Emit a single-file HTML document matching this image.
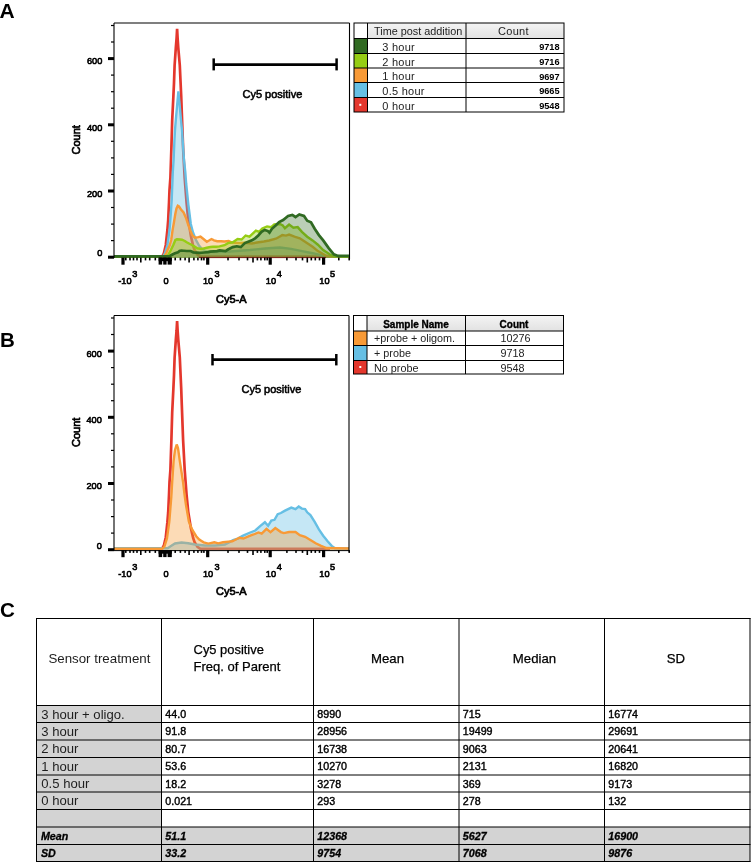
<!DOCTYPE html>
<html><head><meta charset="utf-8"><title>Figure</title>
<style>html,body{margin:0;padding:0;background:#fff;}body{width:752px;height:862px;position:relative;overflow:hidden;font-family:"Liberation Sans", sans-serif;}</style>
</head><body>
<svg width="752" height="862" viewBox="0 0 752 862" style="position:absolute;left:0;top:0;will-change:transform" font-family='"Liberation Sans", sans-serif'>
<defs><linearGradient id="hg" x1="0" y1="0" x2="0" y2="1"><stop offset="0" stop-color="#f4f4f4"/><stop offset="1" stop-color="#e2e2e2"/></linearGradient></defs>
<text x="-0.4" y="17.6" font-size="21" font-weight="bold">A</text>
<text x="0" y="347.2" font-size="20.5" font-weight="bold">B</text>
<text x="0" y="617.3" font-size="20.6" font-weight="bold">C</text>
<path d="M157.0,256.6 L160.0,256.5 L162.3,256.3 L163.9,253.3 L165.8,245.0 L167.4,230.0 L168.2,220.0 L169.0,202.8 L169.5,190.0 L170.4,177.8 L171.4,147.8 L172.2,120.0 L173.4,96.0 L174.0,83.0 L174.6,65.5 L175.8,48.0 L176.6,38.0 L177.1,28.9 L177.6,38.0 L178.3,48.0 L179.8,65.5 L180.6,83.0 L181.2,96.0 L181.8,112.8 L183.1,147.8 L184.7,177.8 L186.6,202.8 L188.2,219.4 L190.9,236.0 L193.2,246.0 L194.6,250.0 L197.5,254.7 L200.0,256.4 L210.0,256.7 L330.0,256.7" fill="none" stroke="#e4372d" stroke-width="2.7" stroke-linejoin="miter" stroke-miterlimit="2.5"/><path d="M114.0,257.9 L114.0,256.5 L162.0,256.5 L163.7,255.6 L165.0,253.0 L167.4,245.0 L169.5,230.0 L170.7,215.0 L171.7,200.0 L172.8,172.0 L173.6,160.0 L174.4,141.0 L175.0,130.0 L175.8,120.0 L176.7,110.0 L177.6,100.0 L178.4,91.4 L179.2,100.0 L180.1,110.0 L181.0,120.0 L182.0,130.0 L183.0,145.0 L184.0,160.0 L185.3,172.0 L186.2,184.0 L188.4,205.0 L190.8,224.0 L193.0,232.5 L196.0,240.0 L199.0,245.5 L202.0,249.0 L206.0,251.0 L214.0,252.0 L230.0,251.5 L250.0,250.0 L265.0,248.5 L280.0,247.5 L291.0,248.9 L302.0,251.1 L312.6,253.2 L322.0,255.5 L330.0,256.5 L349.0,256.5 L349.0,257.9 Z" fill="#66bfe4" fill-opacity="0.38" stroke="none"/><path d="M114.0,256.5 L162.0,256.5 L163.7,255.6 L165.0,253.0 L167.4,245.0 L169.5,230.0 L170.7,215.0 L171.7,200.0 L172.8,172.0 L173.6,160.0 L174.4,141.0 L175.0,130.0 L175.8,120.0 L176.7,110.0 L177.6,100.0 L178.4,91.4 L179.2,100.0 L180.1,110.0 L181.0,120.0 L182.0,130.0 L183.0,145.0 L184.0,160.0 L185.3,172.0 L186.2,184.0 L188.4,205.0 L190.8,224.0 L193.0,232.5 L196.0,240.0 L199.0,245.5 L202.0,249.0 L206.0,251.0 L214.0,252.0 L230.0,251.5 L250.0,250.0 L265.0,248.5 L280.0,247.5 L291.0,248.9 L302.0,251.1 L312.6,253.2 L322.0,255.5 L330.0,256.5 L349.0,256.5" fill="none" stroke="#66bfe4" stroke-width="2.4" stroke-linejoin="miter" stroke-miterlimit="2.5"/><path d="M114.0,257.9 L114.0,256.5 L162.5,256.5 L164.5,256.1 L166.3,253.0 L168.0,249.0 L169.8,245.0 L171.2,240.0 L172.6,230.0 L174.0,222.0 L175.3,214.0 L176.5,208.5 L177.8,205.8 L179.0,206.5 L181.0,209.5 L183.6,212.5 L186.0,218.0 L188.3,225.0 L190.5,231.0 L192.5,235.5 L195.0,237.7 L198.5,237.2 L200.5,236.5 L203.5,239.0 L206.8,241.7 L209.0,240.5 L211.5,239.0 L214.0,240.3 L217.2,241.2 L221.0,241.3 L224.5,241.5 L228.7,241.0 L231.9,242.6 L235.0,242.8 L239.4,243.0 L245.0,242.8 L251.9,243.5 L257.0,242.5 L263.9,241.5 L269.0,240.5 L275.9,238.7 L279.0,237.0 L282.3,235.1 L286.0,235.6 L289.1,234.6 L294.5,236.7 L299.8,238.3 L306.2,242.6 L312.6,246.8 L317.9,251.1 L325.3,255.3 L330.0,256.5 L349.0,256.5 L349.0,257.9 Z" fill="#f89a36" fill-opacity="0.36" stroke="none"/><path d="M114.0,256.5 L162.5,256.5 L164.5,256.1 L166.3,253.0 L168.0,249.0 L169.8,245.0 L171.2,240.0 L172.6,230.0 L174.0,222.0 L175.3,214.0 L176.5,208.5 L177.8,205.8 L179.0,206.5 L181.0,209.5 L183.6,212.5 L186.0,218.0 L188.3,225.0 L190.5,231.0 L192.5,235.5 L195.0,237.7 L198.5,237.2 L200.5,236.5 L203.5,239.0 L206.8,241.7 L209.0,240.5 L211.5,239.0 L214.0,240.3 L217.2,241.2 L221.0,241.3 L224.5,241.5 L228.7,241.0 L231.9,242.6 L235.0,242.8 L239.4,243.0 L245.0,242.8 L251.9,243.5 L257.0,242.5 L263.9,241.5 L269.0,240.5 L275.9,238.7 L279.0,237.0 L282.3,235.1 L286.0,235.6 L289.1,234.6 L294.5,236.7 L299.8,238.3 L306.2,242.6 L312.6,246.8 L317.9,251.1 L325.3,255.3 L330.0,256.5 L349.0,256.5" fill="none" stroke="#f89a36" stroke-width="2.4" stroke-linejoin="miter" stroke-miterlimit="2.5"/><path d="M114.0,257.9 L114.0,256.5 L164.5,256.5 L166.0,256.3 L168.1,255.0 L170.9,250.0 L173.3,245.0 L175.4,240.0 L177.0,239.3 L180.1,239.5 L182.0,239.7 L184.8,241.0 L186.7,242.3 L189.0,243.5 L192.0,245.0 L194.5,246.5 L197.3,248.3 L201.3,249.0 L204.0,248.3 L206.7,247.7 L210.3,247.0 L213.0,246.8 L216.0,246.8 L219.6,246.4 L224.5,245.2 L228.0,243.1 L232.8,242.3 L237.6,239.1 L241.6,239.5 L245.6,235.5 L249.5,236.7 L251.9,234.3 L255.9,230.7 L259.1,231.9 L262.3,228.4 L267.1,226.4 L271.1,227.2 L274.3,224.4 L279.9,224.0 L282.8,225.5 L284.9,228.2 L289.1,224.5 L293.4,227.7 L297.7,227.1 L301.9,231.9 L307.2,236.7 L312.6,240.4 L317.9,244.7 L323.2,250.0 L329.6,254.3 L333.8,256.4 L349.0,256.5 L349.0,257.9 Z" fill="#96cd14" fill-opacity="0.36" stroke="none"/><path d="M114.0,256.5 L164.5,256.5 L166.0,256.3 L168.1,255.0 L170.9,250.0 L173.3,245.0 L175.4,240.0 L177.0,239.3 L180.1,239.5 L182.0,239.7 L184.8,241.0 L186.7,242.3 L189.0,243.5 L192.0,245.0 L194.5,246.5 L197.3,248.3 L201.3,249.0 L204.0,248.3 L206.7,247.7 L210.3,247.0 L213.0,246.8 L216.0,246.8 L219.6,246.4 L224.5,245.2 L228.0,243.1 L232.8,242.3 L237.6,239.1 L241.6,239.5 L245.6,235.5 L249.5,236.7 L251.9,234.3 L255.9,230.7 L259.1,231.9 L262.3,228.4 L267.1,226.4 L271.1,227.2 L274.3,224.4 L279.9,224.0 L282.8,225.5 L284.9,228.2 L289.1,224.5 L293.4,227.7 L297.7,227.1 L301.9,231.9 L307.2,236.7 L312.6,240.4 L317.9,244.7 L323.2,250.0 L329.6,254.3 L333.8,256.4 L349.0,256.5" fill="none" stroke="#96cd14" stroke-width="2.4" stroke-linejoin="miter" stroke-miterlimit="2.5"/><path d="M114.0,257.9 L114.0,256.4 L168.0,256.4 L169.5,256.2 L172.0,254.8 L175.0,253.3 L178.0,252.2 L179.5,251.0 L181.3,250.5 L186.7,251.0 L190.6,251.0 L193.3,252.3 L199.9,252.8 L204.0,252.5 L208.5,252.1 L210.3,251.6 L217.0,251.1 L219.6,250.4 L225.5,251.1 L228.0,249.5 L232.8,247.1 L236.8,246.3 L240.8,247.1 L244.8,243.1 L248.8,241.5 L251.9,240.3 L255.1,238.3 L258.3,235.5 L261.5,231.9 L264.7,229.9 L267.9,231.1 L269.5,232.7 L271.9,228.8 L275.9,225.2 L279.1,222.0 L283.1,220.0 L288.1,216.0 L292.3,214.9 L295.5,217.0 L299.3,214.4 L304.0,216.0 L307.2,220.7 L311.0,222.3 L314.7,228.7 L318.9,235.1 L323.2,240.4 L328.5,247.9 L333.8,254.3 L338.1,255.9 L349.0,255.9 L349.0,257.9 Z" fill="#306a22" fill-opacity="0.33" stroke="none"/><path d="M114.0,256.4 L168.0,256.4 L169.5,256.2 L172.0,254.8 L175.0,253.3 L178.0,252.2 L179.5,251.0 L181.3,250.5 L186.7,251.0 L190.6,251.0 L193.3,252.3 L199.9,252.8 L204.0,252.5 L208.5,252.1 L210.3,251.6 L217.0,251.1 L219.6,250.4 L225.5,251.1 L228.0,249.5 L232.8,247.1 L236.8,246.3 L240.8,247.1 L244.8,243.1 L248.8,241.5 L251.9,240.3 L255.1,238.3 L258.3,235.5 L261.5,231.9 L264.7,229.9 L267.9,231.1 L269.5,232.7 L271.9,228.8 L275.9,225.2 L279.1,222.0 L283.1,220.0 L288.1,216.0 L292.3,214.9 L295.5,217.0 L299.3,214.4 L304.0,216.0 L307.2,220.7 L311.0,222.3 L314.7,228.7 L318.9,235.1 L323.2,240.4 L328.5,247.9 L333.8,254.3 L338.1,255.9 L349.0,255.9" fill="none" stroke="#306a22" stroke-width="2.7" stroke-linejoin="miter" stroke-miterlimit="2.5"/><rect x="199" y="256.9" width="127" height="1.2" fill="#7d2a1c"/><line x1="114" y1="23.0" x2="349.5" y2="23.0" stroke="#000" stroke-width="1.1"/><line x1="349.5" y1="23.0" x2="349.5" y2="259" stroke="#000" stroke-width="1.1"/><line x1="114" y1="23.0" x2="114" y2="258" stroke="#000" stroke-width="1.1"/><rect x="108" y="255.7" width="6" height="3" fill="#000"/><rect x="111" y="240.0" width="3" height="1.2" fill="#000"/><rect x="111" y="223.5" width="3" height="1.2" fill="#000"/><rect x="111" y="206.9" width="3" height="1.2" fill="#000"/><rect x="108" y="189.5" width="6" height="3" fill="#000"/><rect x="111" y="173.8" width="3" height="1.2" fill="#000"/><rect x="111" y="157.3" width="3" height="1.2" fill="#000"/><rect x="111" y="140.7" width="3" height="1.2" fill="#000"/><rect x="108" y="123.3" width="6" height="3" fill="#000"/><rect x="111" y="107.6" width="3" height="1.2" fill="#000"/><rect x="111" y="91.1" width="3" height="1.2" fill="#000"/><rect x="111" y="74.5" width="3" height="1.2" fill="#000"/><rect x="108" y="57.1" width="6" height="3" fill="#000"/><rect x="111" y="41.4" width="3" height="1.2" fill="#000"/><rect x="111" y="24.9" width="3" height="1.2" fill="#000"/><text x="102.3" y="64.3" text-anchor="end" font-size="9.2" stroke="#000" stroke-width="0.6">600</text><text x="102.3" y="130.9" text-anchor="end" font-size="9.2" stroke="#000" stroke-width="0.6">400</text><text x="102.3" y="196.9" text-anchor="end" font-size="9.2" stroke="#000" stroke-width="0.6">200</text><text x="102.3" y="256.4" text-anchor="end" font-size="9.2" stroke="#000" stroke-width="0.6">0</text><rect x="121.4" y="257.6" width="3.2" height="7.1" fill="#000"/><rect x="206.1" y="257.6" width="3.2" height="7.1" fill="#000"/><rect x="268.6" y="257.6" width="3.2" height="7.1" fill="#000"/><rect x="322.0" y="257.6" width="3.2" height="7.1" fill="#000"/><rect x="125.0" y="257.6" width="1.6" height="2.8" fill="#000"/><rect x="129.2" y="257.6" width="1.6" height="2.8" fill="#000"/><rect x="132.7" y="257.6" width="1.6" height="2.8" fill="#000"/><rect x="136.2" y="257.6" width="1.6" height="2.8" fill="#000"/><rect x="144.7" y="257.6" width="1.6" height="2.8" fill="#000"/><rect x="148.9" y="257.6" width="1.6" height="2.8" fill="#000"/><rect x="154.5" y="257.6" width="1.6" height="2.8" fill="#000"/><rect x="174.4" y="257.6" width="1.6" height="2.8" fill="#000"/><rect x="179.6" y="257.6" width="1.6" height="2.8" fill="#000"/><rect x="184.3" y="257.6" width="1.6" height="2.8" fill="#000"/><rect x="193.1" y="257.6" width="1.6" height="2.8" fill="#000"/><rect x="197.1" y="257.6" width="1.6" height="2.8" fill="#000"/><rect x="200.7" y="257.6" width="1.6" height="2.8" fill="#000"/><rect x="203.1" y="257.6" width="1.6" height="2.8" fill="#000"/><rect x="227.2" y="257.6" width="1.6" height="2.8" fill="#000"/><rect x="238.2" y="257.6" width="1.6" height="2.8" fill="#000"/><rect x="246.7" y="257.6" width="1.6" height="2.8" fill="#000"/><rect x="256.6" y="257.6" width="1.6" height="2.8" fill="#000"/><rect x="260.1" y="257.6" width="1.6" height="2.8" fill="#000"/><rect x="264.0" y="257.6" width="1.6" height="2.8" fill="#000"/><rect x="266.4" y="257.6" width="1.6" height="2.8" fill="#000"/><rect x="286.1" y="257.6" width="1.6" height="2.8" fill="#000"/><rect x="295.2" y="257.6" width="1.6" height="2.8" fill="#000"/><rect x="301.7" y="257.6" width="1.6" height="2.8" fill="#000"/><rect x="310.5" y="257.6" width="1.6" height="2.8" fill="#000"/><rect x="314.5" y="257.6" width="1.6" height="2.8" fill="#000"/><rect x="318.7" y="257.6" width="1.6" height="2.8" fill="#000"/><rect x="338.0" y="257.6" width="1.6" height="2.8" fill="#000"/><rect x="348.4" y="257.6" width="1.6" height="2.8" fill="#000"/><rect x="140.0" y="257.6" width="1.6" height="4.9" fill="#000"/><rect x="188.3" y="257.6" width="1.6" height="4.9" fill="#000"/><rect x="252.2" y="257.6" width="1.6" height="4.9" fill="#000"/><rect x="306.5" y="257.6" width="1.6" height="4.9" fill="#000"/><rect x="158.6" y="257.6" width="13.2" height="3.6" fill="#000"/><rect x="158.6" y="257.6" width="3.6" height="7" fill="#000"/><rect x="163.2" y="257.6" width="3.4" height="7" fill="#000"/><rect x="167.6" y="257.6" width="4.2" height="7" fill="#000"/><text x="118.3" y="284.3" font-size="9.2" stroke="#000" stroke-width="0.6">-10</text><text x="132.3" y="277.2" font-size="9.2" stroke="#000" stroke-width="0.6">3</text><text x="163.4" y="284.3" font-size="9.2" stroke="#000" stroke-width="0.6">0</text><text x="203" y="284.3" font-size="9.2" stroke="#000" stroke-width="0.6">10</text><text x="214.5" y="277.2" font-size="9.2" stroke="#000" stroke-width="0.6">3</text><text x="265.8" y="284.3" font-size="9.2" stroke="#000" stroke-width="0.6">10</text><text x="276.8" y="277.2" font-size="9.2" stroke="#000" stroke-width="0.6">4</text><text x="319.3" y="284.3" font-size="9.2" stroke="#000" stroke-width="0.6">10</text><text x="330" y="277.2" font-size="9.2" stroke="#000" stroke-width="0.6">5</text><text x="231.3" y="302.8" text-anchor="middle" font-size="11" stroke="#000" stroke-width="0.7">Cy5-A</text><text transform="translate(80.2,139.8) rotate(-90)" text-anchor="middle" font-size="11" stroke="#000" stroke-width="0.7">Count</text><line x1="213.7" y1="64.6" x2="336.6" y2="64.6" stroke="#000" stroke-width="2.7"/><line x1="213.7" y1="58.4" x2="213.7" y2="70.4" stroke="#000" stroke-width="2.5"/><line x1="336.6" y1="58.4" x2="336.6" y2="70.4" stroke="#000" stroke-width="2.5"/><text x="272.4" y="97.7" text-anchor="middle" font-size="11" stroke="#000" stroke-width="0.55">Cy5 positive</text>
<rect x="367.5" y="23.0" width="196.5" height="15.5" fill="url(#hg)"/><rect x="354.0" y="38.5" width="13.5" height="15.0" fill="#306a22"/><text x="382.3" y="50.5" font-size="11" letter-spacing="0.25" fill="#222">3 hour</text><text x="559.6" y="50.3" font-size="9.2" font-weight="bold" text-anchor="end">9718</text><rect x="354.0" y="53.5" width="13.5" height="14.5" fill="#96cd14"/><text x="382.3" y="65.5" font-size="11" letter-spacing="0.25" fill="#222">2 hour</text><text x="559.6" y="65.3" font-size="9.2" font-weight="bold" text-anchor="end">9716</text><rect x="354.0" y="68.0" width="13.5" height="14.5" fill="#f89a36"/><text x="382.3" y="80.0" font-size="11" letter-spacing="0.25" fill="#222">1 hour</text><text x="559.6" y="79.8" font-size="9.2" font-weight="bold" text-anchor="end">9697</text><rect x="354.0" y="82.5" width="13.5" height="15.0" fill="#66bfe4"/><text x="382.3" y="94.5" font-size="11" letter-spacing="0.25" fill="#222">0.5 hour</text><text x="559.6" y="94.3" font-size="9.2" font-weight="bold" text-anchor="end">9665</text><rect x="354.0" y="97.5" width="13.5" height="14.5" fill="#e4372d"/><text x="382.3" y="109.5" font-size="11" letter-spacing="0.25" fill="#222">0 hour</text><text x="559.6" y="109.3" font-size="9.2" font-weight="bold" text-anchor="end">9548</text><rect x="364.3" y="103.8" width="2" height="2" fill="#fff" transform="translate(-5,0)"/><line x1="354.0" y1="38.5" x2="564.0" y2="38.5" stroke="#000" stroke-width="1"/><line x1="354.0" y1="53.5" x2="564.0" y2="53.5" stroke="#000" stroke-width="1"/><line x1="354.0" y1="68.0" x2="564.0" y2="68.0" stroke="#000" stroke-width="1"/><line x1="354.0" y1="82.5" x2="564.0" y2="82.5" stroke="#000" stroke-width="1"/><line x1="354.0" y1="97.5" x2="564.0" y2="97.5" stroke="#000" stroke-width="1"/><line x1="367.5" y1="23.0" x2="367.5" y2="112.0" stroke="#000" stroke-width="1"/><line x1="466" y1="23.0" x2="466" y2="112.0" stroke="#000" stroke-width="1"/><rect x="354.0" y="23.0" width="210.0" height="89.0" fill="none" stroke="#000" stroke-width="1"/><text x="374.0" y="34.9" font-size="10.85" fill="#222">Time post addition</text><text x="513.4" y="34.9" font-size="11" letter-spacing="0.3" fill="#222" text-anchor="middle">Count</text>
<path d="M157.0,548.8 L160.0,548.7 L162.3,548.5 L163.9,545.5 L165.8,537.2 L167.4,522.2 L168.2,512.2 L169.0,495.0 L169.5,482.2 L170.4,470.0 L171.4,440.0 L172.2,412.2 L173.4,388.2 L174.0,375.2 L174.6,357.7 L175.8,340.2 L176.6,330.2 L177.1,321.1 L177.6,330.2 L178.3,340.2 L179.8,357.7 L180.6,375.2 L181.2,388.2 L181.8,405.0 L183.1,440.0 L184.7,470.0 L186.6,495.0 L188.2,511.6 L190.9,528.2 L193.2,538.2 L194.6,542.2 L197.5,546.9 L200.0,548.6 L210.0,548.9 L330.0,548.9" fill="none" stroke="#e4372d" stroke-width="2.7" stroke-linejoin="miter" stroke-miterlimit="2.5"/><path d="M114.0,550.3 L114.0,548.1 L163.0,548.1 L165.5,548.3 L167.6,548.2 L171.0,546.0 L175.0,543.5 L181.6,542.5 L188.2,543.2 L194.9,544.5 L205.0,545.5 L215.0,545.5 L225.0,544.5 L229.0,542.5 L233.0,540.2 L238.0,538.6 L242.6,535.8 L249.0,533.0 L255.3,530.5 L260.1,526.1 L264.9,522.2 L268.1,525.8 L271.3,520.6 L274.5,519.8 L277.7,514.2 L280.9,513.0 L285.0,510.6 L291.3,507.6 L295.5,509.1 L298.7,506.5 L301.9,508.6 L305.1,509.1 L307.2,512.3 L310.4,515.0 L314.7,521.9 L318.9,529.4 L323.2,535.7 L327.4,541.1 L331.7,545.9 L334.9,548.3 L349.0,548.5 L349.0,550.3 Z" fill="#66bfe4" fill-opacity="0.38" stroke="none"/><path d="M114.0,548.1 L163.0,548.1 L165.5,548.3 L167.6,548.2 L171.0,546.0 L175.0,543.5 L181.6,542.5 L188.2,543.2 L194.9,544.5 L205.0,545.5 L215.0,545.5 L225.0,544.5 L229.0,542.5 L233.0,540.2 L238.0,538.6 L242.6,535.8 L249.0,533.0 L255.3,530.5 L260.1,526.1 L264.9,522.2 L268.1,525.8 L271.3,520.6 L274.5,519.8 L277.7,514.2 L280.9,513.0 L285.0,510.6 L291.3,507.6 L295.5,509.1 L298.7,506.5 L301.9,508.6 L305.1,509.1 L307.2,512.3 L310.4,515.0 L314.7,521.9 L318.9,529.4 L323.2,535.7 L327.4,541.1 L331.7,545.9 L334.9,548.3 L349.0,548.5" fill="none" stroke="#66bfe4" stroke-width="2.4" stroke-linejoin="miter" stroke-miterlimit="2.5"/><path d="M114.0,550.3 L114.0,548.8 L162.0,548.8 L164.3,546.9 L167.0,538.2 L169.3,521.6 L171.3,497.0 L172.2,481.7 L173.6,460.9 L175.0,450.0 L176.7,444.5 L178.0,448.0 L179.8,460.9 L183.0,481.7 L184.6,495.0 L186.0,505.0 L188.9,521.6 L192.2,529.6 L196.2,536.2 L199.0,539.3 L201.5,540.9 L203.7,542.3 L208.3,543.6 L214.3,542.3 L218.3,543.3 L223.0,542.3 L228.3,541.6 L232.3,541.3 L236.3,539.3 L239.4,537.7 L243.4,538.5 L249.0,536.1 L253.5,534.5 L258.5,532.5 L261.7,533.7 L266.5,528.9 L270.5,532.1 L275.3,528.1 L280.9,532.1 L283.8,533.1 L289.1,532.0 L295.5,532.0 L299.8,535.2 L305.1,536.8 L310.4,540.0 L315.7,543.2 L321.1,545.9 L326.4,548.0 L349.0,548.5 L349.0,550.3 Z" fill="#f89a36" fill-opacity="0.36" stroke="none"/><path d="M114.0,548.8 L162.0,548.8 L164.3,546.9 L167.0,538.2 L169.3,521.6 L171.3,497.0 L172.2,481.7 L173.6,460.9 L175.0,450.0 L176.7,444.5 L178.0,448.0 L179.8,460.9 L183.0,481.7 L184.6,495.0 L186.0,505.0 L188.9,521.6 L192.2,529.6 L196.2,536.2 L199.0,539.3 L201.5,540.9 L203.7,542.3 L208.3,543.6 L214.3,542.3 L218.3,543.3 L223.0,542.3 L228.3,541.6 L232.3,541.3 L236.3,539.3 L239.4,537.7 L243.4,538.5 L249.0,536.1 L253.5,534.5 L258.5,532.5 L261.7,533.7 L266.5,528.9 L270.5,532.1 L275.3,528.1 L280.9,532.1 L283.8,533.1 L289.1,532.0 L295.5,532.0 L299.8,535.2 L305.1,536.8 L310.4,540.0 L315.7,543.2 L321.1,545.9 L326.4,548.0 L349.0,548.5" fill="none" stroke="#f89a36" stroke-width="2.4" stroke-linejoin="miter" stroke-miterlimit="2.5"/><line x1="114" y1="315.5" x2="349.0" y2="315.5" stroke="#000" stroke-width="1.1"/><line x1="349.0" y1="315.5" x2="349.0" y2="551.5" stroke="#000" stroke-width="1.1"/><line x1="114" y1="315.5" x2="114" y2="550.5" stroke="#000" stroke-width="1.1"/><rect x="108" y="548.2" width="6" height="3" fill="#000"/><rect x="111" y="532.5" width="3" height="1.2" fill="#000"/><rect x="111" y="516.0" width="3" height="1.2" fill="#000"/><rect x="111" y="499.4" width="3" height="1.2" fill="#000"/><rect x="108" y="482.0" width="6" height="3" fill="#000"/><rect x="111" y="466.3" width="3" height="1.2" fill="#000"/><rect x="111" y="449.8" width="3" height="1.2" fill="#000"/><rect x="111" y="433.2" width="3" height="1.2" fill="#000"/><rect x="108" y="415.8" width="6" height="3" fill="#000"/><rect x="111" y="400.1" width="3" height="1.2" fill="#000"/><rect x="111" y="383.6" width="3" height="1.2" fill="#000"/><rect x="111" y="367.0" width="3" height="1.2" fill="#000"/><rect x="108" y="349.6" width="6" height="3" fill="#000"/><rect x="111" y="333.9" width="3" height="1.2" fill="#000"/><rect x="111" y="317.4" width="3" height="1.2" fill="#000"/><text x="101.8" y="356.8" text-anchor="end" font-size="9.2" stroke="#000" stroke-width="0.6">600</text><text x="101.8" y="423.4" text-anchor="end" font-size="9.2" stroke="#000" stroke-width="0.6">400</text><text x="101.8" y="489.4" text-anchor="end" font-size="9.2" stroke="#000" stroke-width="0.6">200</text><text x="101.8" y="548.9" text-anchor="end" font-size="9.2" stroke="#000" stroke-width="0.6">0</text><rect x="121.4" y="550.1" width="3.2" height="7.1" fill="#000"/><rect x="206.1" y="550.1" width="3.2" height="7.1" fill="#000"/><rect x="268.6" y="550.1" width="3.2" height="7.1" fill="#000"/><rect x="322.0" y="550.1" width="3.2" height="7.1" fill="#000"/><rect x="125.0" y="550.1" width="1.6" height="2.8" fill="#000"/><rect x="129.2" y="550.1" width="1.6" height="2.8" fill="#000"/><rect x="132.7" y="550.1" width="1.6" height="2.8" fill="#000"/><rect x="136.2" y="550.1" width="1.6" height="2.8" fill="#000"/><rect x="144.7" y="550.1" width="1.6" height="2.8" fill="#000"/><rect x="148.9" y="550.1" width="1.6" height="2.8" fill="#000"/><rect x="154.5" y="550.1" width="1.6" height="2.8" fill="#000"/><rect x="174.4" y="550.1" width="1.6" height="2.8" fill="#000"/><rect x="179.6" y="550.1" width="1.6" height="2.8" fill="#000"/><rect x="184.3" y="550.1" width="1.6" height="2.8" fill="#000"/><rect x="193.1" y="550.1" width="1.6" height="2.8" fill="#000"/><rect x="197.1" y="550.1" width="1.6" height="2.8" fill="#000"/><rect x="200.7" y="550.1" width="1.6" height="2.8" fill="#000"/><rect x="203.1" y="550.1" width="1.6" height="2.8" fill="#000"/><rect x="227.2" y="550.1" width="1.6" height="2.8" fill="#000"/><rect x="238.2" y="550.1" width="1.6" height="2.8" fill="#000"/><rect x="246.7" y="550.1" width="1.6" height="2.8" fill="#000"/><rect x="256.6" y="550.1" width="1.6" height="2.8" fill="#000"/><rect x="260.1" y="550.1" width="1.6" height="2.8" fill="#000"/><rect x="264.0" y="550.1" width="1.6" height="2.8" fill="#000"/><rect x="266.4" y="550.1" width="1.6" height="2.8" fill="#000"/><rect x="286.1" y="550.1" width="1.6" height="2.8" fill="#000"/><rect x="295.2" y="550.1" width="1.6" height="2.8" fill="#000"/><rect x="301.7" y="550.1" width="1.6" height="2.8" fill="#000"/><rect x="310.5" y="550.1" width="1.6" height="2.8" fill="#000"/><rect x="314.5" y="550.1" width="1.6" height="2.8" fill="#000"/><rect x="318.7" y="550.1" width="1.6" height="2.8" fill="#000"/><rect x="338.0" y="550.1" width="1.6" height="2.8" fill="#000"/><rect x="348.4" y="550.1" width="1.6" height="2.8" fill="#000"/><rect x="140.0" y="550.1" width="1.6" height="4.9" fill="#000"/><rect x="188.3" y="550.1" width="1.6" height="4.9" fill="#000"/><rect x="252.2" y="550.1" width="1.6" height="4.9" fill="#000"/><rect x="306.5" y="550.1" width="1.6" height="4.9" fill="#000"/><rect x="158.6" y="550.1" width="13.2" height="3.6" fill="#000"/><rect x="158.6" y="550.1" width="3.6" height="7" fill="#000"/><rect x="163.2" y="550.1" width="3.4" height="7" fill="#000"/><rect x="167.6" y="550.1" width="4.2" height="7" fill="#000"/><text x="118.3" y="576.8" font-size="9.2" stroke="#000" stroke-width="0.6">-10</text><text x="132.3" y="569.7" font-size="9.2" stroke="#000" stroke-width="0.6">3</text><text x="163.4" y="576.8" font-size="9.2" stroke="#000" stroke-width="0.6">0</text><text x="203" y="576.8" font-size="9.2" stroke="#000" stroke-width="0.6">10</text><text x="214.5" y="569.7" font-size="9.2" stroke="#000" stroke-width="0.6">3</text><text x="265.8" y="576.8" font-size="9.2" stroke="#000" stroke-width="0.6">10</text><text x="276.8" y="569.7" font-size="9.2" stroke="#000" stroke-width="0.6">4</text><text x="319.3" y="576.8" font-size="9.2" stroke="#000" stroke-width="0.6">10</text><text x="330" y="569.7" font-size="9.2" stroke="#000" stroke-width="0.6">5</text><text x="231.3" y="595.3" text-anchor="middle" font-size="11" stroke="#000" stroke-width="0.7">Cy5-A</text><text transform="translate(80.2,432.3) rotate(-90)" text-anchor="middle" font-size="11" stroke="#000" stroke-width="0.7">Count</text><line x1="212.5" y1="359.6" x2="336.3" y2="359.6" stroke="#000" stroke-width="2.7"/><line x1="212.5" y1="354.0" x2="212.5" y2="365.4" stroke="#000" stroke-width="2.5"/><line x1="336.3" y1="354.0" x2="336.3" y2="365.4" stroke="#000" stroke-width="2.5"/><text x="271.4" y="392.8" text-anchor="middle" font-size="11" stroke="#000" stroke-width="0.55">Cy5 positive</text><rect x="114" y="550.1" width="235" height="1" fill="#000"/>
<rect x="367" y="315.5" width="196.5" height="15.5" fill="url(#hg)"/><rect x="353.5" y="331.0" width="13.5" height="14.5" fill="#f89a36"/><text x="374" y="342.0" font-size="10.8" fill="#222">+probe + oligom.</text><text x="500.4" y="342.0" font-size="10.8" fill="#222">10276</text><rect x="353.5" y="345.5" width="13.5" height="15.0" fill="#66bfe4"/><text x="374" y="356.5" font-size="10.8" fill="#222">+ probe</text><text x="500.4" y="356.5" font-size="10.8" fill="#222">9718</text><rect x="353.5" y="360.5" width="13.5" height="13.5" fill="#e4372d"/><text x="374" y="371.5" font-size="10.8" fill="#222">No probe</text><text x="500.4" y="371.5" font-size="10.8" fill="#222">9548</text><rect x="359.3" y="366.0" width="2" height="2" fill="#fff"/><line x1="353.5" y1="331.0" x2="563.5" y2="331.0" stroke="#000" stroke-width="1"/><line x1="353.5" y1="345.5" x2="563.5" y2="345.5" stroke="#000" stroke-width="1"/><line x1="353.5" y1="360.5" x2="563.5" y2="360.5" stroke="#000" stroke-width="1"/><line x1="367" y1="315.5" x2="367" y2="374.0" stroke="#000" stroke-width="1"/><line x1="465.5" y1="315.5" x2="465.5" y2="374.0" stroke="#000" stroke-width="1"/><rect x="353.5" y="315.5" width="210.0" height="58.5" fill="none" stroke="#000" stroke-width="1"/><text x="416" y="327.5" font-size="10" font-weight="bold" text-anchor="middle" stroke="#000" stroke-width="0.35">Sample Name</text><text x="514" y="327.5" font-size="10" font-weight="bold" text-anchor="middle" stroke="#000" stroke-width="0.35">Count</text>
<rect x="36.5" y="705.5" width="125.0" height="121.5" fill="#d3d3d3"/><rect x="36.5" y="827.0" width="713.5" height="34.5" fill="#d3d3d3"/><line x1="36.0" y1="618.5" x2="750.5" y2="618.5" stroke="#000" stroke-width="1"/><line x1="36.0" y1="705.5" x2="750.5" y2="705.5" stroke="#000" stroke-width="1"/><line x1="36.0" y1="722.5" x2="750.5" y2="722.5" stroke="#000" stroke-width="1"/><line x1="36.0" y1="740.0" x2="750.5" y2="740.0" stroke="#000" stroke-width="1"/><line x1="36.0" y1="757.5" x2="750.5" y2="757.5" stroke="#000" stroke-width="1"/><line x1="36.0" y1="775.0" x2="750.5" y2="775.0" stroke="#000" stroke-width="1"/><line x1="36.0" y1="792.0" x2="750.5" y2="792.0" stroke="#000" stroke-width="1"/><line x1="36.0" y1="809.5" x2="750.5" y2="809.5" stroke="#000" stroke-width="1"/><line x1="36.0" y1="827.0" x2="750.5" y2="827.0" stroke="#000" stroke-width="1"/><line x1="36.0" y1="844.5" x2="750.5" y2="844.5" stroke="#000" stroke-width="1"/><line x1="36.0" y1="861.5" x2="750.5" y2="861.5" stroke="#000" stroke-width="1"/><line x1="36.5" y1="618.0" x2="36.5" y2="862.0" stroke="#000" stroke-width="1"/><line x1="161.5" y1="618.0" x2="161.5" y2="862.0" stroke="#000" stroke-width="1"/><line x1="313.5" y1="618.0" x2="313.5" y2="862.0" stroke="#000" stroke-width="1"/><line x1="459.0" y1="618.0" x2="459.0" y2="862.0" stroke="#000" stroke-width="1"/><line x1="604.5" y1="618.0" x2="604.5" y2="862.0" stroke="#000" stroke-width="1"/><line x1="750.0" y1="618.0" x2="750.0" y2="862.0" stroke="#000" stroke-width="1"/><text x="48.4" y="662.5" font-size="13.3" fill="#1e1e1e">Sensor treatment</text><text x="193.6" y="653.6" font-size="12.9" stroke="#000" stroke-width="0.25">Cy5 positive</text><text x="193.6" y="671" font-size="13" stroke="#000" stroke-width="0.25">Freq. of Parent</text><text x="387.5" y="662.7" font-size="13.2" text-anchor="middle" stroke="#000" stroke-width="0.25">Mean</text><text x="534.5" y="662.7" font-size="13.2" text-anchor="middle" stroke="#000" stroke-width="0.25">Median</text><text x="676" y="662.7" font-size="13.2" text-anchor="middle" stroke="#000" stroke-width="0.25">SD</text><text x="41.3" y="718.6" font-size="13.1" fill="#1e1e1e">3 hour + oligo.</text><text x="165.3" y="718.1" font-size="10.7" stroke="#000" stroke-width="0.4">44.0</text><text x="317.3" y="718.1" font-size="10.7" stroke="#000" stroke-width="0.4">8990</text><text x="462.8" y="718.1" font-size="10.7" stroke="#000" stroke-width="0.4">715</text><text x="608.3" y="718.1" font-size="10.7" stroke="#000" stroke-width="0.4">16774</text><text x="41.3" y="735.6" font-size="13.1" fill="#1e1e1e">3 hour</text><text x="165.3" y="735.1" font-size="10.7" stroke="#000" stroke-width="0.4">91.8</text><text x="317.3" y="735.1" font-size="10.7" stroke="#000" stroke-width="0.4">28956</text><text x="462.8" y="735.1" font-size="10.7" stroke="#000" stroke-width="0.4">19499</text><text x="608.3" y="735.1" font-size="10.7" stroke="#000" stroke-width="0.4">29691</text><text x="41.3" y="753.1" font-size="13.1" fill="#1e1e1e">2 hour</text><text x="165.3" y="752.6" font-size="10.7" stroke="#000" stroke-width="0.4">80.7</text><text x="317.3" y="752.6" font-size="10.7" stroke="#000" stroke-width="0.4">16738</text><text x="462.8" y="752.6" font-size="10.7" stroke="#000" stroke-width="0.4">9063</text><text x="608.3" y="752.6" font-size="10.7" stroke="#000" stroke-width="0.4">20641</text><text x="41.3" y="770.6" font-size="13.1" fill="#1e1e1e">1 hour</text><text x="165.3" y="770.1" font-size="10.7" stroke="#000" stroke-width="0.4">53.6</text><text x="317.3" y="770.1" font-size="10.7" stroke="#000" stroke-width="0.4">10270</text><text x="462.8" y="770.1" font-size="10.7" stroke="#000" stroke-width="0.4">2131</text><text x="608.3" y="770.1" font-size="10.7" stroke="#000" stroke-width="0.4">16820</text><text x="41.3" y="788.1" font-size="13.1" fill="#1e1e1e">0.5 hour</text><text x="165.3" y="787.6" font-size="10.7" stroke="#000" stroke-width="0.4">18.2</text><text x="317.3" y="787.6" font-size="10.7" stroke="#000" stroke-width="0.4">3278</text><text x="462.8" y="787.6" font-size="10.7" stroke="#000" stroke-width="0.4">369</text><text x="608.3" y="787.6" font-size="10.7" stroke="#000" stroke-width="0.4">9173</text><text x="41.3" y="805.1" font-size="13.1" fill="#1e1e1e">0 hour</text><text x="165.3" y="804.6" font-size="10.7" stroke="#000" stroke-width="0.4">0.021</text><text x="317.3" y="804.6" font-size="10.7" stroke="#000" stroke-width="0.4">293</text><text x="462.8" y="804.6" font-size="10.7" stroke="#000" stroke-width="0.4">278</text><text x="608.3" y="804.6" font-size="10.7" stroke="#000" stroke-width="0.4">132</text><text x="40.9" y="839.6" font-size="10.7" font-weight="bold" font-style="italic" stroke="#000" stroke-width="0.3">Mean</text><text x="165.3" y="839.6" font-size="10.7" font-weight="bold" font-style="italic" stroke="#000" stroke-width="0.3">51.1</text><text x="317.3" y="839.6" font-size="10.7" font-weight="bold" font-style="italic" stroke="#000" stroke-width="0.3">12368</text><text x="462.8" y="839.6" font-size="10.7" font-weight="bold" font-style="italic" stroke="#000" stroke-width="0.3">5627</text><text x="608.3" y="839.6" font-size="10.7" font-weight="bold" font-style="italic" stroke="#000" stroke-width="0.3">16900</text><text x="40.9" y="857.1" font-size="10.7" font-weight="bold" font-style="italic" stroke="#000" stroke-width="0.3">SD</text><text x="165.3" y="857.1" font-size="10.7" font-weight="bold" font-style="italic" stroke="#000" stroke-width="0.3">33.2</text><text x="317.3" y="857.1" font-size="10.7" font-weight="bold" font-style="italic" stroke="#000" stroke-width="0.3">9754</text><text x="462.8" y="857.1" font-size="10.7" font-weight="bold" font-style="italic" stroke="#000" stroke-width="0.3">7068</text><text x="608.3" y="857.1" font-size="10.7" font-weight="bold" font-style="italic" stroke="#000" stroke-width="0.3">9876</text>
</svg>
</body></html>
